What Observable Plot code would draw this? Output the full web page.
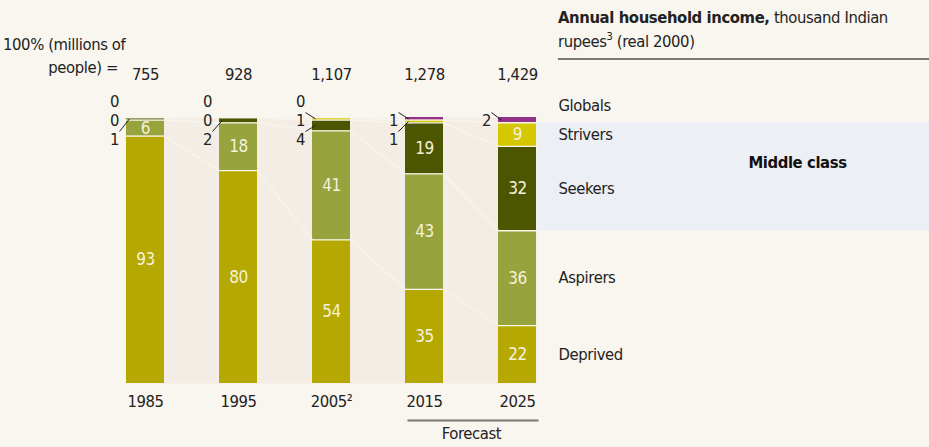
<!DOCTYPE html>
<html><head><meta charset="utf-8">
<script src="https://cdn.jsdelivr.net/npm/d3@7"></script>
<script src="https://cdn.jsdelivr.net/npm/@observablehq/plot@0.6"></script>
<style>
html,body{margin:0;padding:0;background:#f9f5ef;}
#wrap{position:relative;width:929px;height:447px;overflow:hidden;font-family:"Liberation Sans Narrow","Arial Narrow","DejaVu Sans Condensed",sans-serif;color:#222;letter-spacing:-0.4px;}
#wrap svg{position:absolute;left:0;top:0;}
.ov{position:absolute;white-space:nowrap;font-size:16.5px;line-height:24px;}
#title{left:558px;top:6px;}
#title b{font-weight:bold;}
#title sup{font-size:11px;line-height:0;vertical-align:7px;}
#rule{position:absolute;left:558px;top:58px;width:371px;height:2px;background:#7a7874;}
#h1{left:3px;top:33px;}
#h2{left:0;width:118px;text-align:right;top:56px;}
</style></head><body>
<div id="wrap">
  <div class="ov" id="title"><b>Annual household income,</b> thousand Indian<br>rupees<sup>3</sup> (real 2000)</div>
  <div id="rule"></div>
  <div class="ov" id="h1">100% (millions of</div>
  <div class="ov" id="h2">people) =</div>
</div>
<script>
// ---- data ----
const years = ["1985", "1995", "2005", "2015", "2025"];
const yearLabels = ["1985", "1995", "2005²", "2015", "2025"];
const totals = ["755", "928", "1,107", "1,278", "1,429"];
const categories = ["Deprived", "Aspirers", "Seekers", "Strivers", "Globals"];
const deprived = [93, 80, 54, 35, 22];
const aspirers = [6, 18, 41, 43, 36];
const seekers = [1, 2, 4, 19, 32];
const strivers = [0, 0, 1, 1, 9];
const globals = [0, 0, 0, 1, 2];
const colors = ["#b5a800", "#97a33c", "#4c5600", "#d6c800", "#933088"];
const middleClass = ["Seekers", "Strivers"];

// ---- tidy rows ----
const series = [deprived, aspirers, seekers, strivers, globals];
const rows = [];
years.forEach((year, i) => {
  const sum = d3.sum(series, s => s[i]);
  let cum = 0;
  categories.forEach((cat, j) => {
    const value = series[j][i];
    const y1 = cum / sum;
    cum += value;
    const y2 = cum / sum;
    rows.push({year, cat, value, y1, y2, mid: (y1 + y2) / 2});
  });
});
// small labels placed to the left of the bars, in slots above the bar top
const small = [];
years.forEach((year, i) => {
  const r = rows.filter(d => d.year === year && d.value < 5).reverse(); // top-down
  let k = (r.length && r[0].cat === "Globals" && r[0].value === 0) ? 0 : 1;
  r.forEach(d => { small.push({...d, slot: k}); k++; });
});
const totalRows = years.map((year, i) => ({year, total: totals[i], label: yearLabels[i]}));
const last = years[years.length - 1];
const mcRows = rows.filter(d => d.year === last && middleClass.includes(d.cat));
const mc = {year: last, y1: d3.min(mcRows, d => d.y1), y2: d3.max(mcRows, d => d.y2)};
mc.mid = (mc.y1 + mc.y2) / 2;

// ---- layout ----
const W = 929, H = 447, mL = 125, mR = 393, mT = 117, mB = 64;
const padIn = 1 - 38 / 93.25;
const bw = (W - mL - mR) / (years.length - padIn) * (1 - padIn);
const hw = bw / 2;
const slotDy = [-22, -3, 16];
const FS = 16.5;

// polyline that runs flat across each bar and diagonally between bars
function bandStep(context) {
  let first = true;
  return {
    areaStart() {}, areaEnd() {},
    lineStart() { first = true; },
    lineEnd() {},
    point(x, y) {
      x = +x; y = +y;
      if (first) { context.moveTo(x - hw, y); first = false; }
      else context.lineTo(x - hw, y);
      context.lineTo(x + hw, y);
    }
  };
}
// two-point curve with offsets on each end
function offsetCurve(ax, bx, ayAbs, byOff) {
  return function(context) {
    let n = 0;
    return {
      areaStart() {}, areaEnd() {},
      lineStart() { n = 0; }, lineEnd() {},
      point(x, y) {
        x = +x; y = +y;
        if (n === 0) context.moveTo(x + ax, ayAbs == null ? y : ayAbs);
        else context.lineTo(x + bx, y + (byOff || 0));
        n++;
      }
    };
  };
}

const font = '"Liberation Sans Narrow","Arial Narrow","DejaVu Sans Condensed",sans-serif';
const marks = [
  Plot.frame({fill: "#f3ede6", stroke: null}),
  Plot.rect([mc], {y1: "y1", y2: "y2", fill: "#eceff4", dx: 412, insetRight: 19}),
  Plot.barY(rows, {x: "year", y1: "y1", y2: "y2", fill: "cat"}),
  Plot.line(rows.filter(d => d.cat !== "Globals"), {x: "year", y: "y2", z: "cat", stroke: "#f8f5ea", strokeWidth: 1.3, curve: bandStep}),
  Plot.text(rows.filter(d => d.value >= 5), {x: "year", y: "mid", text: d => String(d.value), fill: "#f5f1dc", fontSize: 17}),
  Plot.text(totalRows, {x: "year", text: "total", frameAnchor: "top", dy: -49, fontSize: FS, fill: "#222"}),
  Plot.text(totalRows, {x: "year", text: "label", frameAnchor: "bottom", dy: 23, fontSize: FS, fill: "#222"}),
  Plot.text(rows.filter(d => d.year === last && d.cat !== "Globals"), {x: "year", y: "mid", text: "cat", textAnchor: "start", dx: 41, fontSize: FS, fill: "#222"}),
  Plot.text(rows.filter(d => d.year === last && d.cat === "Globals"), {x: "year", y: "y2", text: "cat", textAnchor: "start", dx: 41, dy: -12, fontSize: FS, fill: "#222"}),
  Plot.text([mc], {x: "year", y: "mid", text: () => "Middle class", dx: 280, dy: -14, fontSize: FS, fontWeight: "bold", fill: "#111"}),
  Plot.link([{a: "2015", b: last}], {x1: "a", x2: "b", y1: 0, y2: 0, dy: 37, stroke: "#7a7874", strokeWidth: 2, curve: offsetCurve(-hw + 2, hw + 2)}),
  Plot.text([{year: "2015"}], {x: "year", text: () => "Forecast", frameAnchor: "bottom", dy: 55, dx: 47, fontSize: FS, fill: "#222"})
];
slotDy.forEach((dy, k) => {
  const s = small.filter(d => d.slot === k);
  marks.push(Plot.text(s, {x: "year", text: d => String(d.value), frameAnchor: "top", dy, dx: -31, fontSize: FS, fill: "#222"}));
  marks.push(Plot.link(s.filter(d => d.value > 0), {x1: "year", x2: "year", y1: "mid", y2: "mid", stroke: "#222", strokeWidth: 1, curve: offsetCurve(-26, -hw + 3, mT + dy - 2, 0)}));
});

const chart = Plot.plot({
  width: W, height: H,
  marginLeft: mL, marginRight: mR, marginTop: mT, marginBottom: mB,
  x: {domain: years, paddingInner: padIn, paddingOuter: 0, axis: null},
  y: {domain: [0, 1], axis: null},
  color: {domain: categories, range: colors},
  style: {background: "transparent", fontFamily: font, fontSize: FS + "px", letterSpacing: "-0.4px", overflow: "visible"},
  marks
});
document.getElementById("wrap").prepend(chart);
</script>
</body></html>
